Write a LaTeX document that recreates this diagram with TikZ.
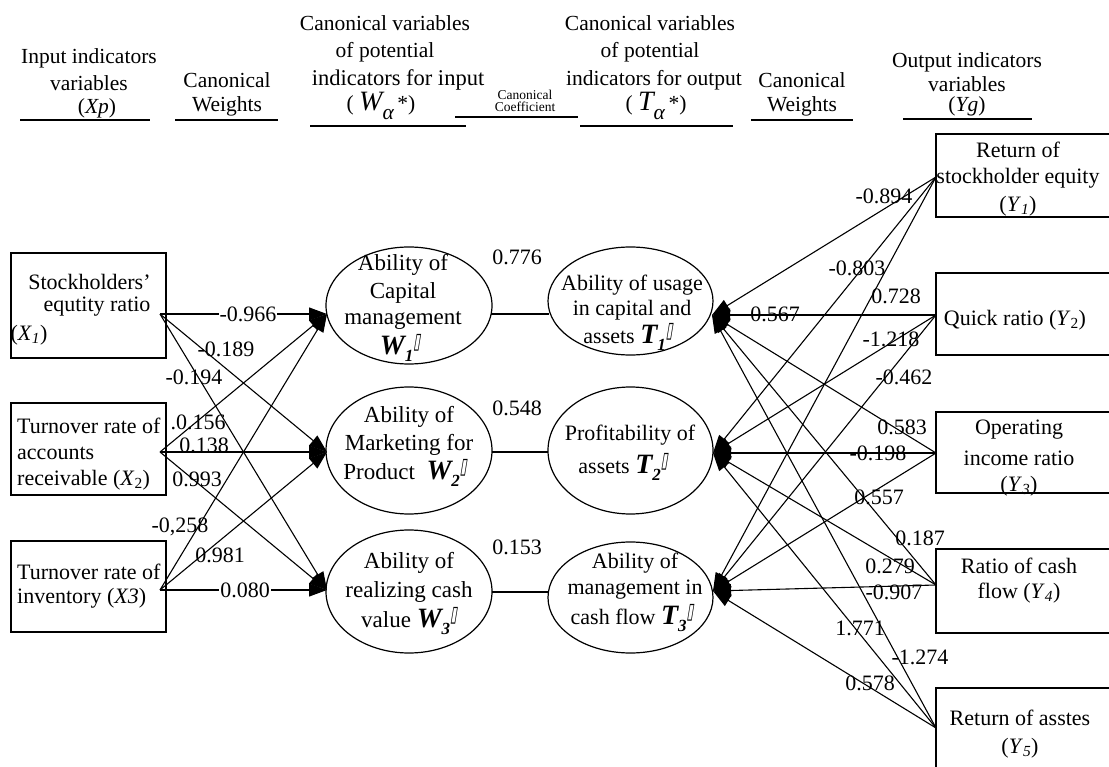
\documentclass[tikz,border=0pt]{standalone}
\usepackage{graphicx}
\usepackage{fontspec}
\setmainfont{Liberation Serif}
\newfontfamily\djs[FakeSlant=0.3]{DejaVu Sans}
\usetikzlibrary{arrows.meta,shapes.geometric}
\newcommand{\nbx}{\raisebox{0.28em}{\scalebox{0.55}[1]{\djs\fontsize{22}{22}\selectfont\char"25AF}}}
\newcommand{\sv}[2]{{\fontsize{28}{28}\selectfont\bfseries\itshape #1\raisebox{-0.25em}{\fontsize{17}{17}\selectfont #2}}\nbx}
\newcommand{\isb}[1]{\textsubscript{\itshape #1}}
\begin{document}
\begin{tikzpicture}[x=1pt,y=-1pt,
  txt/.style={font=\fontsize{22}{26}\selectfont, inner sep=0pt},
  etxt/.style={font=\fontsize{23}{27}\selectfont, inner sep=0pt},
  hdr/.style={font=\fontsize{21.5}{25}\selectfont, inner sep=0pt},
  tiny/.style={font=\fontsize{13.5}{14}\selectfont, inner sep=0pt},
  lbl/.style={font=\fontsize{22}{26}\selectfont, inner sep=0pt},
  wlbl/.style={lbl, fill=white, inner xsep=1pt},
  box/.style={draw, line width=1.2pt, rectangle, inner sep=0pt},
  ell/.style={draw, ellipse, line width=1.2pt, inner sep=0pt},
  ul/.style={line width=1.3pt},
  ln/.style={line width=1.1pt},
  arr/.style={line width=1.1pt, -{Triangle[length=18pt,width=13pt]}}]
\useasboundingbox (0,0) rectangle (1109,767);
\clip (0,0) rectangle (1109,767);

% ---------------- headers ----------------
\node[hdr] (h1a) at (89,58) {Input indicators};
\node[hdr] (h1b) at (89,83) {variables};
\node[hdr] (h1c) at (97,108) {(\textit{Xp})};
\draw[ul] (20,120) -- (150,120);

\node[hdr] (h2a) at (227,80) {Canonical};
\node[hdr] (h2b) at (227,106) {Weights};
\draw[ul] (175,120) -- (278,120);

\node[hdr] (h3a) at (385,23) {Canonical variables};
\node[hdr] (h3b) at (385,52) {of potential};
\node[hdr, font=\fontsize{22.5}{25}\selectfont] (h3c) at (398,80) {indicators for input};
\node[hdr] (h3d) at (381,106) {( {\fontsize{28}{28}\selectfont\itshape W}\raisebox{-0.4em}{\itshape α}\,*)};
\draw[ul] (310,126) -- (466,126);

\node[tiny] (h4a) at (525,95) {Canonical};
\node[tiny] (h4b) at (525,107) {Coefficient};
\draw[ul] (455,117) -- (578,117);

\node[hdr] (h5a) at (650,23) {Canonical variables};
\node[hdr] (h5b) at (650,52) {of potential};
\node[hdr] (h5c) at (654,80) {indicators for output};
\node[hdr] (h5d) at (656,106) {( {\fontsize{28}{28}\selectfont\itshape T}\raisebox{-0.4em}{\itshape α}\,*)};
\draw[ul] (580,126) -- (733,126);

\node[hdr] (h6a) at (802,80) {Canonical};
\node[hdr] (h6b) at (802,106) {Weights};
\draw[ul] (751,120) -- (853,120);

\node[hdr] (h7a) at (967,62) {Output indicators};
\node[hdr] (h7b) at (967,84) {variables};
\node[hdr] (h7c) at (967,106) {(\textit{Yg})};
\draw[ul] (903,119) -- (1032,119);

% ---------------- input boxes ----------------
\node[box, minimum width=155pt, minimum height=105pt] (X1) at (88.5,305.5) {};
\node[box, minimum width=155pt, minimum height=92pt] (X2) at (88.5,449) {};
\node[box, minimum width=155pt, minimum height=91pt] (X3) at (88.5,586.5) {};
\node[txt] (x1a) at (89.5,282) {Stockholders’};
\node[txt] (x1b) at (97,307) {equtity ratio};
\node[txt] (x1c) at (29,335) {(\textit{X}\isb{1})};
\node[txt, anchor=west] (x2a) at (17,426) {Turnover rate of};
\node[txt, anchor=west] (x2b) at (17,453) {accounts};
\node[txt, anchor=west] (x2c) at (17,480) {receivable (\textit{X}\textsubscript{2})};
\node[txt, anchor=west] (x3a) at (17,572) {Turnover rate of};
\node[txt, anchor=west] (x3b) at (17,598) {inventory (\textit{X3})};

% ---------------- W ellipses ----------------
\node[ell, minimum width=166pt, minimum height=117pt] (W1) at (409,305.5) {};
\node[ell, minimum width=166pt, minimum height=127pt] (W2) at (409,450.5) {};
\node[ell, minimum width=166pt, minimum height=123pt] (W3) at (409,591.5) {};
\node[etxt] (w1a) at (403,265) {Ability of};
\node[etxt] (w1b) at (403,293) {Capital};
\node[etxt] (w1c) at (403,321) {management};
\node[etxt] (w1d) at (400,348) {\sv{W}{1}};
\node[etxt] (w2a) at (409,417) {Ability of};
\node[etxt] (w2b) at (409,445) {Marketing for};
\node[etxt] (w2c) at (405,473) {Product\ \ \sv{W}{2}};
\node[etxt] (w3a) at (409,563) {Ability of};
\node[etxt] (w3b) at (409,592) {realizing cash};
\node[etxt] (w3c) at (409,621) {value \sv{W}{3}};

% ---------------- T ellipses ----------------
\node[ell, minimum width=165pt, minimum height=108pt] (T1) at (630.5,301) {};
\node[ell, minimum width=165pt, minimum height=127pt] (T2) at (630.5,450.5) {};
\node[ell, minimum width=165pt, minimum height=111pt] (T3) at (630.5,597.5) {};
\node[txt] (t1a) at (632,285) {Ability of usage};
\node[txt] (t1b) at (632,310) {in capital and};
\node[txt] (t1c) at (628,337) {assets \sv{T}{1}};
\node[txt] (t2a) at (630,435) {Profitability of};
\node[txt] (t2b) at (623,467) {assets \sv{T}{2}};
\node[txt] (t3a) at (635,563) {Ability of};
\node[txt] (t3b) at (635,590) {management in};
\node[txt] (t3c) at (632,618) {cash flow \sv{T}{3}};

% ---------------- output boxes ----------------
\node[box, minimum width=184pt, minimum height=83pt] (Y1) at (1028,175.5) {};
\node[box, minimum width=184pt, minimum height=82pt] (Y2) at (1028,314) {};
\node[box, minimum width=184pt, minimum height=81pt] (Y3) at (1028,452.5) {};
\node[box, minimum width=184pt, minimum height=84pt] (Y4) at (1028,591) {};
\node[box, minimum width=184pt, minimum height=102pt] (Y5) at (1028,739) {};
\node[txt] (y1a) at (1018,150) {Return of};
\node[txt] (y1b) at (1018,178) {stockholder equity};
\node[txt] (y1c) at (1018,206) {(\textit{Y}\isb{1})};
\node[txt] (y2a) at (1015,320) {Quick ratio (\textit{Y}\textsubscript{2})};
\node[txt] (y3a) at (1019,430) {Operating};
\node[txt] (y3b) at (1019,458) {income ratio};
\node[txt] (y3c) at (1019,486) {(\textit{Y}\isb{3})};
\node[txt] (y4a) at (1019,566) {Ratio of cash};
\node[txt] (y4b) at (1019,593) {flow (\textit{Y}\isb{4})};
\node[txt] (y5a) at (1020,718) {Return of asstes};
\node[txt] (y5b) at (1020,748) {(\textit{Y}\isb{5})};

% ---------------- anchor coordinates ----------------
\coordinate (X1o) at (160,314);
\coordinate (X2o) at (160,452);
\coordinate (X3o) at (160,590);
\coordinate (W1i) at (327,314);
\coordinate (W2i) at (327,452);
\coordinate (W3i) at (327,590);
\coordinate (W1o) at (491,314);
\coordinate (W2o) at (492,452);
\coordinate (W3o) at (492,592);
\coordinate (T1l) at (549,314);
\coordinate (T2l) at (548,452);
\coordinate (T3l) at (548,592);
\coordinate (T1i) at (712,315);
\coordinate (T2i) at (713,453);
\coordinate (T3i) at (713,591);
\coordinate (Y1o) at (936,177);
\coordinate (Y2o) at (936,315);
\coordinate (Y3o) at (936,453);
\coordinate (Y4o) at (936,585);
\coordinate (Y5o) at (936,728);

% ---------------- connectors ----------------
\foreach \s in {X1o,X2o,X3o}{
  \foreach \t in {W1i,W2i,W3i}{
    \draw[arr] (\s) -- (\t);
  }
}
\draw[ln] (W1o) -- (T1l);
\draw[ln] (W2o) -- (T2l);
\draw[ln] (W3o) -- (T3l);
\foreach \s in {Y1o,Y2o,Y3o,Y4o,Y5o}{
  \foreach \t in {T1i,T2i,T3i}{
    \draw[arr] (\s) -- (\t);
  }
}

% ---------------- left labels ----------------
\node[wlbl] (l1) at (248,314) {-0.966};
\node[lbl] (l2) at (226,349) {-0.189};
\node[lbl] (l3) at (194,377) {-0.194};
\node[lbl] (l4) at (198,422) {.0.156};
\node[lbl] (l5) at (204,445) {0.138};
\node[lbl] (l6) at (197,479) {0.993};
\node[lbl] (l7) at (180,527) {-0,258};
\node[lbl] (l8) at (220,555) {0.981};
\node[wlbl] (l9) at (245,590) {0.080};

% ---------------- coefficients ----------------
\node[lbl] (c1) at (517,257) {0.776};
\node[lbl] (c2) at (517,408) {0.548};
\node[lbl] (c3) at (517,547) {0.153};

% ---------------- right labels ----------------
\node[lbl] (r1) at (884,196) {-0.894};
\node[lbl] (r2) at (857,268) {-0.803};
\node[lbl] (r3) at (896,296) {0.728};
\node[lbl] (r4) at (775,314) {0.567};
\node[lbl] (r5) at (891,339) {-1.218};
\node[lbl] (r6) at (904,377) {-0.462};
\node[lbl] (r7) at (902,427) {0.583};
\node[lbl] (r8) at (878,453) {-0.198};
\node[lbl] (r9) at (879,497) {0.557};
\node[lbl] (r10) at (920,538) {0.187};
\node[lbl] (r11) at (890,566) {0.279};
\node[lbl] (r12) at (894,592) {-0.907};
\node[lbl] (r13) at (860,628) {1.771};
\node[lbl] (r14) at (920,657) {-1.274};
\node[lbl] (r15) at (870,683) {0.578};
\end{tikzpicture}
\end{document}
